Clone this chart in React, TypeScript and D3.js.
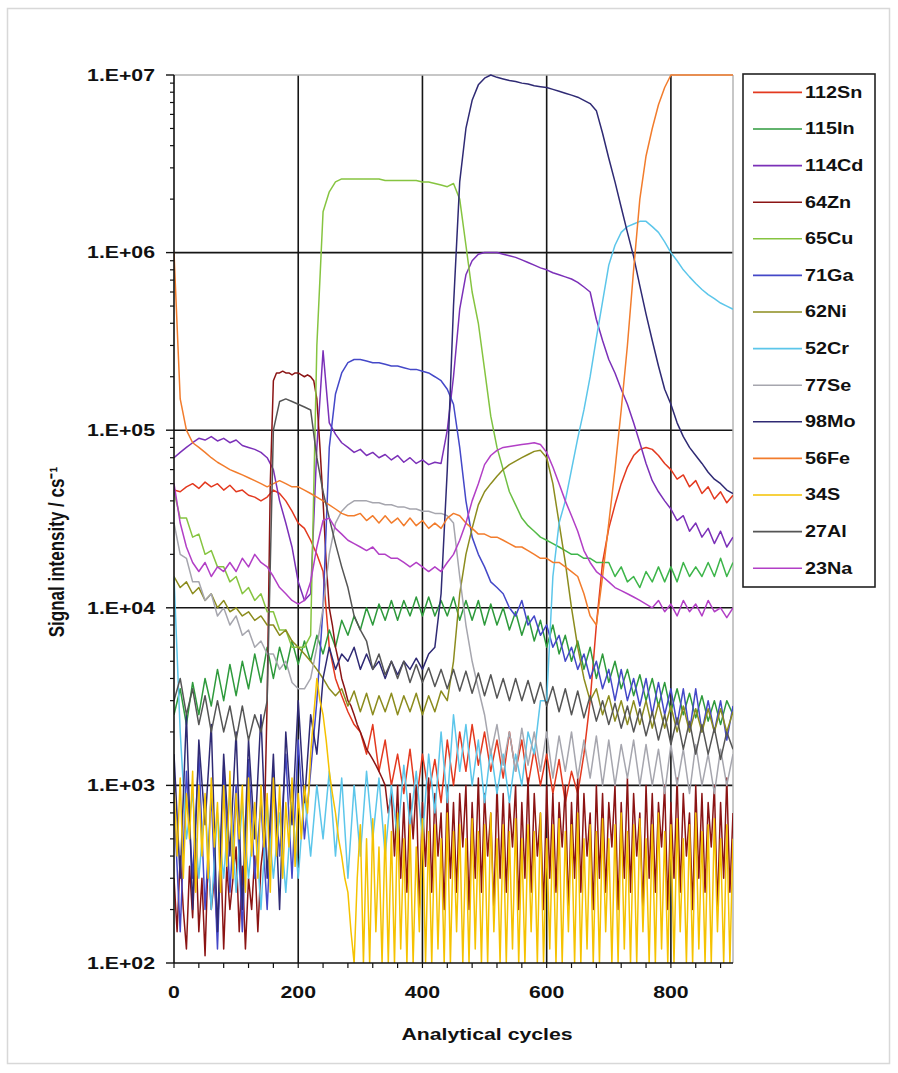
import React from "react";
import * as d3 from "d3";

// ---------- data ----------
const CYCLES: number[] = d3.range(0, 901, 10);
const CYCLES_FINE: number[] = d3.range(0, 901, 5);

const SN112 = [4.6e4,4.5e4,4.8e4,5e4,4.7e4,5.1e4,4.8e4,5e4,4.6e4,4.9e4,
 4.5e4,4.6e4,4.3e4,4.2e4,4e4,4.2e4,4.6e4,4.4e4,4e4,3.5e4,
 3e4,2.8e4,2.4e4,2e4,1.6e4,6e3,4e3,3.2e3,2.6e3,2.2e3,
 2e3,1.5e3,2.2e3,1.2e3,1.8e3,1e3,1.5e3,900,1.6e3,800,
 1.5e3,900,1.4e3,800,1.8e3,1e3,2e3,1.2e3,2.2e3,1.3e3,
 2e3,1.2e3,1.8e3,1.1e3,2e3,1.2e3,1.8e3,1e3,1.6e3,1e3,
 1.5e3,900,1.4e3,800,1.2e3,900,1.5e3,3e3,8e3,1.8e4,
 2.8e4,3.8e4,5e4,6.2e4,7.2e4,7.8e4,8e4,7.8e4,7.2e4,6.5e4,
 6e4,5.3e4,5.6e4,4.8e4,5.2e4,4.4e4,4.8e4,4.1e4,4.5e4,3.9e4,
 4.3e4];

const IN115 = [2.5e3,3.5e3,2.2e3,3.8e3,2.5e3,4e3,2.8e3,4.5e3,3e3,4.8e3,
 3.2e3,5e3,3.5e3,5.5e3,3.8e3,6e3,4e3,6e3,4.5e3,6.5e3,
 4.8e3,6.5e3,5e3,7e3,5.5e3,7.5e3,6e3,8.5e3,7e3,9e3,
 7.5e3,1e4,8e3,1.05e4,8.5e3,1.1e4,8.5e3,1.1e4,9e3,1.15e4,
 9e3,1.15e4,9e3,1.1e4,9e3,1.15e4,8.5e3,1.1e4,8.5e3,1.1e4,
 8e3,1.05e4,8e3,1e4,7.5e3,9.5e3,7e3,9e3,6.5e3,8.5e3,
 6e3,8e3,5.5e3,7e3,5e3,6.5e3,4.5e3,6e3,4e3,5.5e3,
 3.8e3,5e3,3.5e3,4.5e3,3.2e3,4.2e3,3e3,4e3,2.8e3,3.8e3,
 2.6e3,3.5e3,2.5e3,3.3e3,2.4e3,3.2e3,2.3e3,3e3,2.2e3,3e3,
 2.5e3];

const CD114 = [7e4,7.5e4,8e4,8.5e4,9e4,8.8e4,9.2e4,8.7e4,9e4,8.5e4,
 8.8e4,8.2e4,8e4,7.8e4,7.5e4,7e4,6e4,4e4,3e4,2.2e4,
 1.4e4,1.1e4,1.2e4,8e4,2.8e5,1.1e5,9.5e4,8.5e4,8e4,7.5e4,
 7.8e4,7.2e4,7.5e4,7e4,7.3e4,6.8e4,7.2e4,6.6e4,7e4,6.5e4,
 6.8e4,6.4e4,6.6e4,6.5e4,1e5,2e5,4.8e5,7.5e5,9e5,9.8e5,
 1e6,1e6,1e6,9.8e5,9.6e5,9.4e5,9.1e5,8.8e5,8.5e5,8.2e5,
 8e5,7.7e5,7.5e5,7.3e5,7.1e5,6.8e5,6.4e5,6e5,4.2e5,3.2e5,
 2.5e5,2.1e5,1.7e5,1.4e5,1.1e5,8.5e4,6.5e4,5.2e4,4.5e4,4e4,
 3.6e4,3.1e4,3.3e4,2.7e4,3e4,2.5e4,2.8e4,2.3e4,2.7e4,2.2e4,
 2.5e4];

// 64Zn read every 5 cycles
const ZN64 = [300,150,400,200,120,350,180,500,150,300,
 110,400,200,300,150,450,120,350,200,300,
 450,150,350,120,300,200,400,150,350,500,
 3e3,5e4,1.9e5,2.1e5,2.1e5,2.15e5,2.1e5,2.1e5,2.05e5,2.1e5,
 2.1e5,2.05e5,2e5,2.05e5,2e5,1.9e5,1.5e5,8e4,4e4,1.8e4,
 1e4,8e3,6e3,5e3,4e3,3.5e3,3e3,2.8e3,2.5e3,2.2e3,
 2e3,1.8e3,1.6e3,1.5e3,1.4e3,1.3e3,1.2e3,1.1e3,1e3,700,
 900,400,1000,300,800,250,900,500,1000,200,
 800,350,1100,250,900,400,700,200,1000,300,
 800,250,900,450,1000,200,800,300,1100,250,
 900,400,700,200,1000,300,900,250,800,450,
 1000,200,800,300,1100,250,900,400,700,200,
 1000,300,900,250,800,450,1000,200,800,300,
 1100,250,900,400,700,200,1000,300,900,250,
 800,450,1000,200,800,300,1100,250,900,400,
 700,200,1000,300,900,250,800,450,1000,200,
 800,300,1100,250,900,400,700,200,1000,300,
 900,250,800,450,1000,200,800,300,1100,250,
 700];

const CU65 = [4.5e4,3.2e4,3.2e4,2.5e4,2.6e4,2e4,2.1e4,1.7e4,1.7e4,1.4e4,
 1.5e4,1.2e4,1.3e4,1.1e4,1.2e4,9.5e3,9.5e3,7.5e3,7.5e3,6e3,
 6e3,6e3,7e3,3e5,1.7e6,2.2e6,2.5e6,2.6e6,2.6e6,2.6e6,
 2.6e6,2.6e6,2.6e6,2.6e6,2.55e6,2.55e6,2.55e6,2.55e6,2.55e6,2.55e6,
 2.5e6,2.5e6,2.45e6,2.4e6,2.35e6,2.45e6,2e6,1.1e6,6e5,4e5,
 2.2e5,1.2e5,8e4,6e4,4.5e4,3.8e4,3.2e4,2.9e4,2.7e4,2.5e4,
 2.4e4,2.3e4,2.2e4,2.1e4,2e4,2e4,1.9e4,1.9e4,1.8e4,1.8e4,
 1.8e4,1.5e4,1.7e4,1.4e4,1.5e4,1.3e4,1.6e4,1.4e4,1.7e4,1.4e4,
 1.7e4,1.4e4,1.8e4,1.5e4,1.7e4,1.5e4,1.8e4,1.5e4,1.9e4,1.5e4,
 1.8e4];

const GA71 = [800,150,1200,300,1500,200,900,120,1300,250,
 1000,150,1400,300,800,200,1200,400,1500,300,
 1800,500,1200,3000,1e4,8e4,1.6e5,2.1e5,2.4e5,2.5e5,
 2.5e5,2.45e5,2.4e5,2.4e5,2.35e5,2.3e5,2.3e5,2.25e5,2.2e5,2.2e5,
 2.15e5,2.1e5,2e5,1.9e5,1.7e5,1.4e5,8e4,4e4,2.5e4,2e4,
 1.7e4,1.4e4,1.3e4,1.2e4,1e4,9e3,1.1e4,8e3,9e3,7e3,
 8e3,6e3,7e3,5e3,6e3,4.5e3,5.5e3,4e3,5e3,3.5e3,
 4.5e3,3e3,4.5e3,3e3,4e3,2.8e3,4e3,2.5e3,3.8e3,2.5e3,
 3.5e3,2.2e3,3.5e3,2e3,3.5e3,2e3,3e3,2e3,3e3,1.8e3,
 2.8e3];

const NI62 = [1.5e4,1.3e4,1.4e4,1.2e4,1.3e4,1.1e4,1.2e4,1e4,1.1e4,9.5e3,
 1e4,9e3,9.5e3,8.5e3,9e3,8e3,8e3,7e3,7.5e3,6.5e3,
 6e3,5.5e3,5e3,4.5e3,4e3,3.5e3,3.2e3,3.5e3,2.8e3,3.4e3,
 2.6e3,3.3e3,2.5e3,3.2e3,2.6e3,3.3e3,2.5e3,3.2e3,2.6e3,3.3e3,
 2.5e3,3.2e3,2.6e3,3.4e3,3e3,5e3,1.2e4,2e4,2.8e4,3.8e4,
 4.5e4,5e4,5.5e4,6e4,6.4e4,6.7e4,7e4,7.3e4,7.6e4,7.7e4,
 7e4,5e4,3e4,1.8e4,1e4,6e3,4e3,3e3,3.5e3,2.5e3,
 3.2e3,2.3e3,3e3,2.2e3,3e3,2.2e3,3e3,2.1e3,2.9e3,2.1e3,
 2.8e3,2e3,2.8e3,2e3,2.7e3,2e3,2.7e3,2e3,2.7e3,2e3,
 2.6e3];

const CR52 = [1.5e4,2e3,500,900,300,800,200,700,300,900,
 250,800,300,700,200,800,300,700,250,800,
 300,900,400,1000,500,1200,400,1100,300,1000,
 400,1200,500,1100,400,1000,500,1300,600,1200,
 500,1500,700,2000,800,2500,1200,2200,1000,1800,
 800,1600,900,1500,800,1500,1000,2000,1500,3000,
 3e3,1.5e4,3e4,4e4,6e4,9e4,1.3e5,2e5,3.3e5,5.3e5,
 8.5e5,1.1e6,1.3e6,1.4e6,1.45e6,1.5e6,1.5e6,1.4e6,1.3e6,1.15e6,
 1e6,9e5,8e5,7.3e5,6.7e5,6.2e5,5.8e5,5.5e5,5.2e5,5e5,
 4.8e5];

const SE77 = [3e4,2e4,1.9e4,1.4e4,1.4e4,1.1e4,1.2e4,9e3,1e4,8e3,
 9e3,7e3,7.5e3,6e3,6.5e3,5.5e3,5.5e3,4.5e3,5e3,3.8e3,
 3.5e3,3.5e3,4e3,6e3,1e4,2e4,3e4,3.5e4,3.8e4,4e4,
 4e4,4e4,3.9e4,3.9e4,3.8e4,3.8e4,3.7e4,3.7e4,3.6e4,3.6e4,
 3.5e4,3.5e4,3.4e4,3.4e4,3.3e4,3e4,1.5e4,8e3,5e3,3.5e3,
 2.5e3,1.5e3,2.2e3,1.3e3,2e3,1.2e3,2.1e3,1.3e3,2e3,1.2e3,
 2e3,1.1e3,1.9e3,1.2e3,2e3,1.1e3,1.8e3,1.1e3,1.9e3,1e3,
 1.8e3,1e3,1.7e3,1.1e3,1.8e3,1e3,1.7e3,1e3,1.6e3,900,
 1.7e3,1e3,1.6e3,900,1.7e3,1e3,1.5e3,900,1.6e3,1e3,
 1.5e3];

const MO98 = [1500,300,2500,200,1800,600,2200,150,1500,400,
 2000,200,1800,500,2500,300,1500,200,2000,600,
 3000,800,2500,1500,4000,6000,4500,5500,5000,6000,
 4500,5500,4500,5000,4000,5000,4200,5000,4500,5200,
 4500,5500,6000,1.2e4,6e4,5e5,2.5e6,5e6,7.2e6,8.8e6,
 9.6e6,1e7,9.7e6,9.5e6,9.3e6,9.2e6,9e6,8.9e6,8.7e6,8.6e6,
 8.5e6,8.3e6,8.1e6,7.9e6,7.7e6,7.5e6,7.2e6,6.9e6,6.3e6,4.7e6,
 3.4e6,2.5e6,1.8e6,1.3e6,9.5e5,6.5e5,4.5e5,3.2e5,2.3e5,1.7e5,
 1.4e5,1.1e5,9.2e4,8e4,7.2e4,6.5e4,5.8e4,5.3e4,5e4,4.6e4,
 4.4e4];

const FE56 = [1e6,1.5e5,1e5,8.5e4,8e4,7.5e4,7e4,6.6e4,6.3e4,6e4,
 5.8e4,5.6e4,5.4e4,5.2e4,5e4,4.8e4,5e4,5.2e4,5e4,4.8e4,
 4.8e4,4.6e4,4.4e4,4.2e4,4e4,3.8e4,3.6e4,3.4e4,3.3e4,3.3e4,
 3.4e4,3.1e4,3.3e4,3e4,3.3e4,3e4,3.2e4,2.9e4,3.2e4,2.9e4,
 3.1e4,2.8e4,3e4,2.8e4,3.2e4,3.4e4,3.3e4,3e4,2.8e4,2.6e4,
 2.6e4,2.5e4,2.5e4,2.4e4,2.3e4,2.2e4,2.2e4,2.1e4,2e4,1.9e4,
 1.9e4,1.8e4,1.8e4,1.7e4,1.6e4,1.5e4,1.2e4,9e3,8e3,1.5e4,
 3e4,6e4,1.3e5,3e5,8e5,2e6,3.5e6,5e6,6.8e6,8.5e6,
 1e7,1e7,1e7,1e7,1e7,1e7,1e7,1e7,1e7,1e7,
 1e7];

// 34S read every 5 cycles
const S34 = [1000,400,1100,300,900,500,1200,250,1000,400,
 900,300,1100,450,800,250,1000,350,1200,300,
 900,500,1000,250,1100,400,800,300,1000,450,
 900,250,1100,400,1000,300,800,450,1100,350,
 900,500,1000,700,1500,2500,4000,3000,2500,1800,
 1200,900,700,500,400,300,250,150,100,300,
 600,100,500,100,650,150,450,100,600,100,
 550,100,700,120,500,100,600,100,450,150,
 650,100,550,100,600,120,500,100,700,100,
 550,150,600,100,500,100,650,120,550,100,
 600,100,700,150,500,100,600,100,550,120,
 650,100,500,100,600,150,550,100,700,100,
 500,120,600,100,650,100,550,150,600,100,
 700,100,500,120,600,100,550,100,650,150,
 500,100,600,100,700,120,550,100,600,100,
 650,150,500,100,600,100,700,120,550,100,
 600,100,650,150,500,100,600,100,700,120,
 550,100,600,100,650,150,500,100,600,100,
 500];

const AL27 = [3e3,4e3,2.5e3,3.5e3,2.2e3,3.2e3,2e3,3e3,2e3,2.8e3,
 1.8e3,2.8e3,1.8e3,2.5e3,2e3,3e3,1e5,1.45e5,1.5e5,1.45e5,
 1.4e5,1.35e5,1.3e5,7e4,4.5e4,3.2e4,2.3e4,1.7e4,1.3e4,9e3,
 7.5e3,6.5e3,4.5e3,5.5e3,4.2e3,5e3,4e3,5e3,3.8e3,4.8e3,
 3.8e3,4.6e3,3.6e3,4.5e3,3.5e3,4.5e3,3.4e3,4.4e3,3.3e3,4.3e3,
 3.2e3,4.2e3,3.1e3,4e3,3e3,4e3,3e3,3.9e3,2.9e3,3.8e3,
 2.8e3,3.6e3,2.6e3,3.5e3,2.5e3,3.4e3,2.4e3,3.2e3,2.3e3,3e3,
 2.2e3,2.9e3,2.1e3,2.8e3,2e3,2.7e3,1.9e3,2.6e3,1.8e3,2.5e3,
 1.7e3,2.4e3,1.6e3,2.3e3,1.5e3,2.2e3,1.5e3,2.1e3,1.4e3,2e3,
 1.6e3];

const NA23 = [5e4,3e4,2.2e4,1.8e4,1.6e4,1.8e4,1.5e4,1.7e4,1.6e4,1.8e4,
 1.6e4,1.9e4,1.7e4,2e4,1.8e4,1.7e4,1.5e4,1.3e4,1.2e4,1.1e4,
 1.05e4,1.1e4,1.4e4,2.2e4,3.1e4,3.2e4,2.8e4,2.6e4,2.4e4,2.3e4,
 2.2e4,2.1e4,2.2e4,2e4,2e4,1.9e4,1.9e4,1.8e4,1.7e4,1.8e4,
 1.7e4,1.6e4,1.7e4,1.6e4,1.8e4,2e4,2.4e4,3e4,4e4,5e4,
 6.4e4,7.2e4,7.7e4,8e4,8.1e4,8.2e4,8.3e4,8.4e4,8.5e4,8.3e4,
 7.5e4,6.2e4,5e4,4e4,3.3e4,2.7e4,2.1e4,1.8e4,1.6e4,1.5e4,
 1.4e4,1.3e4,1.25e4,1.2e4,1.15e4,1.1e4,1.05e4,1e4,1.1e4,9.5e3,
 1.05e4,9e3,1.1e4,9.5e3,1.05e4,9e3,1.1e4,9.5e3,1e4,8.8e3,
 1e4];

const SERIES_NAMES = ["112Sn","115In","114Cd","64Zn","65Cu","71Ga","62Ni","52Cr","77Se","98Mo","56Fe","34S","27Al","23Na"];
const SERIES_VALUES = [SN112, IN115, CD114, ZN64, CU65, GA71, NI62, CR52, SE77, MO98, FE56, S34, AL27, NA23];
const SERIES_X = [CYCLES, CYCLES, CYCLES, CYCLES_FINE, CYCLES, CYCLES, CYCLES, CYCLES, CYCLES, CYCLES, CYCLES, CYCLES_FINE, CYCLES, CYCLES];
const SERIES_COLORS = ["#e3391f","#2e9a3c","#7b30b8","#8b1414","#86c440","#4448c8","#8c8c1e","#5cc6ea","#a6a6ae","#2f2a74","#f27c2c","#f5c200","#555555","#b23fc6"];
const CU_TAIL_COLOR = "#3db54a";

const Y_TICKS = [1e2, 1e3, 1e4, 1e5, 1e6, 1e7];
const Y_TICK_LABELS = ["1.E+02","1.E+03","1.E+04","1.E+05","1.E+06","1.E+07"];
const X_TICKS = [0, 200, 400, 600, 800];
const X_TICK_LABELS = ["0","200","400","600","800"];

// ---------- layout ----------
const W = 898, H = 1073;
const PL = 174, PR = 733, PT = 75, PB = 963;
const FONT = "'Liberation Sans', Arial, sans-serif";

const T = ({ x, y, anchor = "middle", size = 17, sx = 1.25, children }: any) => (
  <text transform={`translate(${x},${y}) scale(${sx},1)`} textAnchor={anchor} dominantBaseline="central"
    fontSize={size} fontWeight="bold" fontFamily={FONT} fill="#111">{children}</text>
);

export default function App() {
  const x = d3.scaleLinear().domain([0, 900]).range([PL, PR]);
  const y = d3.scaleLog().domain([1e2, 1e7]).range([PB, PT]);

  const minor: number[] = [];
  for (let e = 2; e < 7; e++) for (let k = 2; k <= 9; k++) minor.push(k * Math.pow(10, e));
  const xMinor = d3.range(0, 900, 40);

  return (
    <svg width={W} height={H} style={{ position: "absolute", left: 0, top: 0, background: "#fff" }}>
      <rect x={0} y={0} width={W} height={H} fill="#fff" />
      <rect x={7.5} y={8.5} width={882} height={1055} fill="none" stroke="#d8d8d8" strokeWidth={1.5} />
      <defs>
        <clipPath id="plot"><rect x={PL} y={PT - 1} width={PR - PL} height={PB - PT + 1} /></clipPath>
        <linearGradient id="cuGrad" gradientUnits="userSpaceOnUse" x1={x(500)} x2={x(620)} y1={0} y2={0}>
          <stop offset="0" stopColor={SERIES_COLORS[4]} />
          <stop offset="1" stopColor={CU_TAIL_COLOR} />
        </linearGradient>
      </defs>
      {/* grid */}
      {X_TICKS.filter((t) => t > 0).map((t) => (
        <line key={"gx" + t} x1={x(t)} x2={x(t)} y1={PT} y2={PB} stroke="#151515" strokeWidth={1.6} />
      ))}
      {Y_TICKS.filter((t) => t > 1e2 && t < 1e7).map((t) => (
        <line key={"gy" + t} x1={PL} x2={PR} y1={y(t)} y2={y(t)} stroke="#151515" strokeWidth={1.6} />
      ))}
      <line x1={PL} x2={PR} y1={PT} y2={PT} stroke="#b5b5b5" strokeWidth={1.5} />
      <line x1={PR} x2={PR} y1={PT} y2={PB} stroke="#b5b5b5" strokeWidth={1.5} />
      {/* series */}
      <g clipPath="url(#plot)">
        {SERIES_VALUES.map((vals, i) => {
          const xs = SERIES_X[i];
          const gen = d3.line<number>().x((_, j) => x(xs[j])).y((d) => y(d));
          return (
            <path key={SERIES_NAMES[i]} d={gen(vals) || ""} fill="none"
              stroke={i === 4 ? "url(#cuGrad)" : SERIES_COLORS[i]}
              strokeWidth={1.5} strokeLinejoin="round" />
          );
        })}
      </g>
      {/* axes */}
      <line x1={PL} x2={PL} y1={PT} y2={PB} stroke="#111" strokeWidth={1.6} />
      <line x1={PL} x2={PR} y1={PB} y2={PB} stroke="#111" strokeWidth={1.6} />
      {Y_TICKS.map((t) => (
        <line key={"yt" + t} x1={PL - 8} x2={PL} y1={y(t)} y2={y(t)} stroke="#111" strokeWidth={1.4} />
      ))}
      {minor.map((t) => (
        <line key={"ym" + t} x1={PL - 4} x2={PL} y1={y(t)} y2={y(t)} stroke="#111" strokeWidth={1.2} />
      ))}
      {xMinor.map((t) => (
        <line key={"xm" + t} x1={x(t)} x2={x(t)} y1={PB} y2={PB + 5} stroke="#111" strokeWidth={1.2} />
      ))}
      {Y_TICKS.map((t, i) => (
        <T key={"yl" + t} x={155} y={y(t)} anchor="end">{Y_TICK_LABELS[i]}</T>
      ))}
      {X_TICKS.map((t, i) => (
        <T key={"xl" + t} x={x(t)} y={992}>{X_TICK_LABELS[i]}</T>
      ))}
      <T x={487} y={1034}>Analytical cycles</T>
      <text transform={`translate(57,552) rotate(-90) scale(1,1.25)`} textAnchor="middle" dominantBaseline="central"
        fontSize={17} fontWeight="bold" fontFamily={FONT} fill="#111">Signal intensity / cs⁻¹</text>
      {/* legend */}
      <rect x={743} y={74} width={132} height={513} fill="#fff" stroke="#222" strokeWidth={1.6} />
      {SERIES_NAMES.map((n, i) => {
        const ly = 92.4 + i * 36.6;
        return (
          <g key={"lg" + n}>
            <line x1={753} x2={802} y1={ly} y2={ly} stroke={SERIES_COLORS[i]} strokeWidth={1.6} />
            <T x={805} y={ly} anchor="start" size={16.5} sx={1.2}>{n}</T>
          </g>
        );
      })}
    </svg>
  );
}
